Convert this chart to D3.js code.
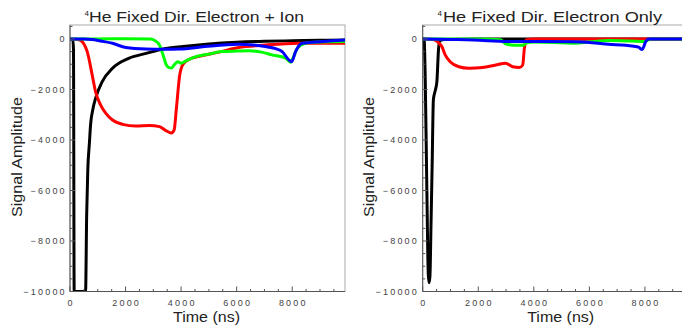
<!DOCTYPE html>
<html><head><meta charset="utf-8">
<script src="https://cdn.jsdelivr.net/npm/d3@7"></script>
<style>
body{margin:0;background:#fff}
svg{display:block}
text{font-family:"Liberation Sans",Arial,Helvetica,sans-serif}
</style>
</head><body>
<svg id="c" width="682" height="328"></svg>
<script>
// ---------------- data ----------------
const panelTitles = ["He Fixed Dir. Electron + Ion", "He Fixed Dir. Electron Only"];
const xTicks = [0, 2000, 4000, 6000, 8000];
const yTicks = [0, -2000, -4000, -6000, -8000, -10000];
const xLabel = "Time (ns)";
const yLabel = "Signal Amplitude";
const seriesColors = ["#000000", "#ff0000", "#00ff00", "#0000ff"];

// Electron + Ion  [time ns, amplitude]
const ionBlack = [[0,0],[100,-30],[125,-400],[150,-13000],[540,-13000],[560,-10200],[600,-7000],[640,-5200],[700,-4100],[740,-3400],[820,-2800],[920,-2350],[1160,-1690],[1530,-1160],[2130,-760],[2740,-570],[3350,-400],[4070,-300],[5000,-200],[6000,-130],[7000,-90],[8000,-70],[9000,-50],[9900,-40]];
const ionRed = [[0,0],[200,-10],[375,-50],[500,-200],[620,-500],[800,-1430],[920,-2090],[1100,-2610],[1285,-2940],[1530,-3210],[1890,-3380],[2375,-3450],[2860,-3430],[3220,-3470],[3470,-3640],[3650,-3720],[3750,-3600],[3830,-2750],[3950,-1430],[4070,-1000],[4300,-800],[4600,-700],[5450,-500],[6060,-340],[7030,-240],[8240,-170],[9900,-170]];
const ionGreen = [[0,0],[800,0],[2000,10],[2900,0],[3050,-60],[3220,-240],[3350,-630],[3470,-1030],[3540,-1120],[3650,-1150],[3770,-1000],[3880,-900],[4000,-960],[4240,-830],[4600,-680],[5000,-600],[5450,-500],[6000,-480],[6420,-470],[6900,-520],[7270,-630],[7760,-760],[7940,-920],[8050,-700],[8180,-370],[8480,-170],[9000,-120],[9900,-100]];
const ionBlue = [[0,0],[500,0],[800,-20],[1100,-80],[1530,-170],[2010,-340],[2740,-400],[3350,-410],[3950,-400],[4850,-300],[6060,-210],[6600,-240],[7030,-300],[7400,-380],[7640,-500],[7880,-830],[7980,-900],[8120,-500],[8360,-170],[9090,-100],[9900,-40]];

// Electron Only
const elBlack = [[0,0],[50,0],[90,-1500],[150,-6000],[200,-9300],[230,-9650],[260,-9400],[300,-7300],[340,-5000],[385,-2400],[450,-2050],[510,-1700],[570,-400],[620,-60],[800,-20],[2000,0],[4000,0],[6000,0],[8000,0],[9900,0]];
const elRed = [[0,0],[300,-10],[450,-50],[570,-150],[690,-300],[810,-630],[990,-900],[1300,-1100],[1660,-1160],[2150,-1130],[2630,-1030],[2990,-960],[3240,-1100],[3480,-1130],[3600,-1030],[3660,-370],[3720,-40],[4000,0],[6000,0],[7800,0],[8000,0],[9900,0]];
const elGreen = [[0,0],[2000,0],[2800,-30],[3000,-200],[3300,-250],[3600,-250],[3750,-150],[4000,-120],[5000,-150],[5500,-170],[6000,-120],[6700,-60],[7500,-80],[8000,-100],[8200,0],[9900,0]];
const elBlue = [[0,0],[1000,-20],[1840,-40],[3050,-100],[4270,-100],[5400,-110],[6100,-150],[6690,-210],[7310,-250],[7600,-290],[7770,-320],[7900,-420],[7960,-300],[8020,-120],[8140,0],[9900,0]];

const panelSeries = [[ionBlack, ionRed, ionGreen, ionBlue], [elBlack, elRed, elGreen, elBlue]];

// ---------------- layout ----------------
const frameTop = 25, frameBottom = 291.5, frameW = 275;
const xDomain = [0, 9900], yDomain = [-10000, 554];
const panels = [
  {x0: 70,    titleX: 89,  titleLen: 215, supX: 84.5, yLabX: 22,  xLabLen: 67, ylabLen: 120},
  {x0: 422.7, titleX: 443, titleLen: 219, supX: 437.5, yLabX: 374, xLabLen: 67, ylabLen: 120}
];

const svg = d3.select("#c");

panels.forEach((p, i) => {
  const x = d3.scaleLinear().domain(xDomain).range([p.x0, p.x0 + frameW]);
  const y = d3.scaleLinear().domain(yDomain).range([frameBottom, frameTop]).clamp(true);
  const g = svg.append("g");

  // frame
  g.append("rect").attr("x", p.x0).attr("y", frameTop).attr("width", frameW)
    .attr("height", frameBottom - frameTop).attr("fill", "none")
    .attr("stroke", "#aaa").attr("stroke-width", 1);

  // clip
  const cid = "clip" + i;
  g.append("clipPath").attr("id", cid).append("rect")
    .attr("x", p.x0).attr("y", frameTop).attr("width", frameW).attr("height", frameBottom - frameTop);

  // curves
  const line = d3.line().x(d => x(d[0])).y(d => y(d[1])).curve(d3.curveMonotoneX);
  const cg = g.append("g").attr("clip-path", `url(#${cid})`);
  panelSeries[i].forEach((s, k) => {
    cg.append("path").attr("d", line(s)).attr("fill", "none")
      .attr("stroke", seriesColors[k]).attr("stroke-width", 3)
      .attr("stroke-linejoin", "round").attr("stroke-linecap", "round");
  });

  // axes lines
  g.append("line").attr("x1", p.x0).attr("x2", p.x0).attr("y1", frameTop).attr("y2", frameBottom)
    .attr("stroke", "#555").attr("stroke-width", 1);
  g.append("line").attr("x1", p.x0).attr("x2", p.x0 + frameW).attr("y1", frameBottom).attr("y2", frameBottom)
    .attr("stroke", "#555").attr("stroke-width", 1);

  // x ticks (inward)
  const xMinor = d3.range(0, xDomain[1] + 1, 500);
  g.selectAll(null).data(xMinor).enter().append("line")
    .attr("x1", d => x(d)).attr("x2", d => x(d))
    .attr("y1", frameBottom).attr("y2", d => frameBottom - (d % 2000 === 0 ? 5 : 2.5))
    .attr("stroke", "#555").attr("stroke-width", 1);
  g.selectAll(null).data(xTicks).enter().append("text")
    .attr("x", d => x(d)).attr("dx", 1.1).attr("y", 306)
    .attr("text-anchor", "middle").attr("font-size", 9).style("letter-spacing", "2.2px")
    .attr("fill", "#444").text(d => d3.format("d")(d));

  // y ticks (inward)
  const yMinor = d3.range(-10000, 501, 500);
  g.selectAll(null).data(yMinor).enter().append("line")
    .attr("x1", p.x0).attr("x2", d => p.x0 + (d % 2000 === 0 ? 5 : 2.5))
    .attr("y1", d => y(d)).attr("y2", d => y(d))
    .attr("stroke", "#555").attr("stroke-width", 1);
  g.selectAll(null).data(yTicks).enter().append("text")
    .attr("x", p.x0 - 3.2 - (i ? 0.5 : 0)).attr("y", d => y(d)).attr("dy", "0.35em")
    .attr("text-anchor", "end").attr("font-size", 9).style("letter-spacing", "2.2px")
    .attr("fill", "#444").text(d => d3.format("d")(d));

  // title
  g.append("text").attr("x", p.supX).attr("y", 15.5).attr("font-size", 8).attr("fill", "#222").text("4");
  g.append("text").attr("x", p.titleX).attr("y", 21.5).attr("font-size", 14.5).attr("fill", "#222")
    .attr("textLength", p.titleLen).attr("lengthAdjust", "spacingAndGlyphs").text(panelTitles[i]);

  // x label
  const xc = p.x0 + (173 + 240) / 2 - 70 + (i ? 1.5 : 0);
  g.append("text").attr("x", xc - p.xLabLen / 2).attr("y", 321.5).attr("font-size", 14)
    .attr("fill", "#222").attr("textLength", p.xLabLen).attr("lengthAdjust", "spacingAndGlyphs").text(xLabel);

  // y label
  const yc = 157;
  g.append("text").attr("transform", `translate(${p.yLabX},${yc + p.ylabLen / 2}) rotate(-90)`)
    .attr("font-size", 14).attr("fill", "#222")
    .attr("textLength", p.ylabLen).attr("lengthAdjust", "spacingAndGlyphs").text(yLabel);
});
</script>
</body></html>
